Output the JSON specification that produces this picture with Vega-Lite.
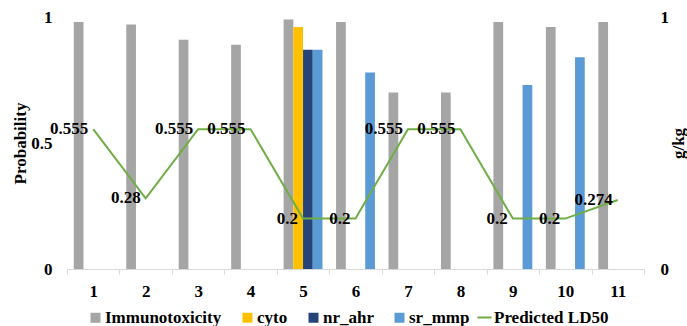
{
  "$schema": "https://vega.github.io/schema/vega-lite/v6.json",
  "autosize": "none",
  "width": 577,
  "height": 252,
  "padding": {"left": 67, "top": 17, "right": 43, "bottom": 57},
  "background": "white",
  "config": {
    "view": {"stroke": null},
    "font": "Liberation Serif",
    "axis": {
      "labelFont": "Liberation Serif",
      "labelFontWeight": "bold",
      "labelFontSize": 17,
      "labelColor": "#000000",
      "titleFont": "Liberation Serif",
      "titleFontWeight": "bold",
      "titleFontSize": 17,
      "titleColor": "#000000",
      "grid": false
    }
  },
  "datasets": {
    "probabilities": [
      {"compound": 1, "endpoint": "Immunotoxicity", "p": 0.98},
      {"compound": 2, "endpoint": "Immunotoxicity", "p": 0.97},
      {"compound": 3, "endpoint": "Immunotoxicity", "p": 0.91},
      {"compound": 4, "endpoint": "Immunotoxicity", "p": 0.89},
      {"compound": 5, "endpoint": "Immunotoxicity", "p": 0.99},
      {"compound": 5, "endpoint": "cyto", "p": 0.96},
      {"compound": 5, "endpoint": "nr_ahr", "p": 0.87},
      {"compound": 5, "endpoint": "sr_mmp", "p": 0.87},
      {"compound": 6, "endpoint": "Immunotoxicity", "p": 0.98},
      {"compound": 6, "endpoint": "sr_mmp", "p": 0.78},
      {"compound": 7, "endpoint": "Immunotoxicity", "p": 0.70},
      {"compound": 8, "endpoint": "Immunotoxicity", "p": 0.70},
      {"compound": 9, "endpoint": "Immunotoxicity", "p": 0.98},
      {"compound": 9, "endpoint": "sr_mmp", "p": 0.73},
      {"compound": 10, "endpoint": "Immunotoxicity", "p": 0.96},
      {"compound": 10, "endpoint": "sr_mmp", "p": 0.84},
      {"compound": 11, "endpoint": "Immunotoxicity", "p": 0.98}
    ],
    "ld50": [
      {"compound": 1, "ld50": 0.555},
      {"compound": 2, "ld50": 0.28},
      {"compound": 3, "ld50": 0.555},
      {"compound": 4, "ld50": 0.555},
      {"compound": 5, "ld50": 0.2},
      {"compound": 6, "ld50": 0.2},
      {"compound": 7, "ld50": 0.555},
      {"compound": 8, "ld50": 0.555},
      {"compound": 9, "ld50": 0.2},
      {"compound": 10, "ld50": 0.2},
      {"compound": 11, "ld50": 0.274}
    ]
  },
  "encoding": {
    "x": {
      "field": "compound",
      "type": "ordinal",
      "scale": {"type": "band", "domain": [1, 2, 3, 4, 5, 6, 7, 8, 9, 10, 11], "paddingInner": 0, "paddingOuter": 0},
      "axis": {
        "title": null,
        "labelAngle": 0,
        "domainColor": "#d9d9d9",
        "domainWidth": 1,
        "tickColor": "#d9d9d9",
        "tickSize": 5,
        "tickBand": "extent",
        "labelPadding": 9
      }
    }
  },
  "layer": [
    {
      "data": {"name": "probabilities"},
      "mark": {"type": "bar"},
      "encoding": {
        "xOffset": {
          "field": "endpoint",
          "type": "nominal",
          "scale": {"domain": ["Immunotoxicity", "cyto", "nr_ahr", "sr_mmp"], "paddingInner": 0, "paddingOuter": 0.7}
        },
        "y": {
          "field": "p",
          "type": "quantitative",
          "scale": {"domain": [0, 1]},
          "axis": {
            "orient": "left",
            "title": "Probability",
            "values": [0, 0.5, 1],
            "labelExpr": "datum.value",
            "domain": false,
            "ticks": false,
            "labelPadding": 15,
            "titleAngle": -90,
            "titleX": -47,
            "titleY": 126,
            "titleBaseline": "middle",
            "titleAlign": "center"
          }
        },
        "color": {
          "field": "endpoint",
          "type": "nominal",
          "scale": {
            "domain": ["Immunotoxicity", "cyto", "nr_ahr", "sr_mmp"],
            "range": ["#A5A5A5", "#FFC000", "#264478", "#5B9BD5"]
          },
          "legend": {
            "title": null,
            "orient": "none",
            "direction": "horizontal",
            "legendX": 20,
            "legendY": 292,
            "padding": 0,
            "symbolType": "square",
            "symbolSize": 100,
            "symbolStrokeWidth": 0,
            "labelFont": "Liberation Serif",
            "labelFontWeight": "bold",
            "labelFontSize": 17,
            "labelColor": "#000000",
            "labelLimit": 300,
            "labelOffset": 1,
            "columnPadding": 17
          }
        }
      }
    },
    {
      "data": {"name": "ld50"},
      "encoding": {
        "y": {
          "field": "ld50",
          "type": "quantitative",
          "scale": {"domain": [0, 1]},
          "axis": {
            "orient": "right",
            "title": "g/kg",
            "values": [0, 1],
            "labelExpr": "datum.value",
            "domain": false,
            "ticks": false,
            "labelPadding": 16,
            "titleAngle": -90,
            "titleX": 34,
            "titleY": 126,
            "titleBaseline": "middle",
            "titleAlign": "center"
          }
        }
      },
      "layer": [
        {
          "mark": {"type": "line", "strokeWidth": 2},
          "encoding": {
            "stroke": {
              "datum": "Predicted LD50",
              "type": "nominal",
              "scale": {"range": ["#70AD47"]},
              "legend": {
                "title": null,
                "orient": "none",
                "legendX": 409,
                "legendY": 292,
                "padding": 0,
                "symbolType": "stroke",
                "symbolSize": 200,
                "symbolStrokeWidth": 2,
                "labelFont": "Liberation Serif",
                "labelFontWeight": "bold",
                "labelFontSize": 17,
                "labelColor": "#000000",
                "labelLimit": 300,
                "labelOffset": 1
              }
            }
          }
        },
        {
          "mark": {
            "type": "text",
            "align": "right",
            "baseline": "middle",
            "dx": -5,
            "font": "Liberation Serif",
            "fontWeight": "bold",
            "fontSize": 17,
            "color": "#000000"
          },
          "encoding": {
            "text": {"field": "ld50", "type": "nominal"}
          }
        }
      ]
    }
  ],
  "resolve": {"scale": {"y": "independent"}}
}
